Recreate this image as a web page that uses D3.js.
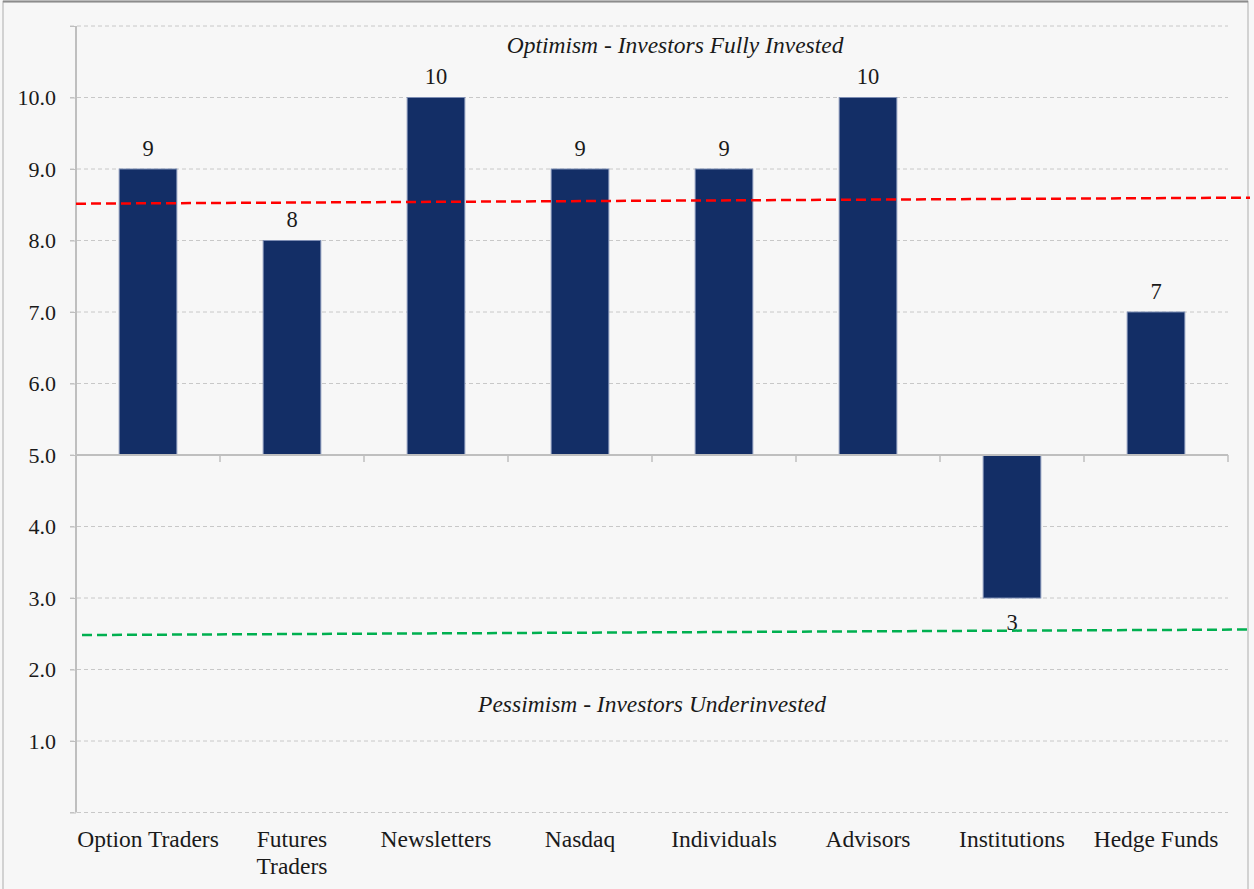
<!DOCTYPE html>
<html><head><meta charset="utf-8">
<script src="https://cdn.jsdelivr.net/npm/d3@7"></script>
<style>
html,body{margin:0;padding:0;background:#f7f7f7;}
svg{display:block;}
text{font-family:"Liberation Serif","Times New Roman",serif;fill:#1a1a1a;}
</style></head><body>
<svg id="c" width="1254" height="889"></svg>
<script>
const categories = [["Option Traders"],["Futures","Traders"],["Newsletters"],["Nasdaq"],["Individuals"],["Advisors"],["Institutions"],["Hedge Funds"]];
const values = [9, 8, 10, 9, 9, 10, 3, 7];
const baseline = 5;
const yTicks = [0,1,2,3,4,5,6,7,8,9,10,11];
const yTickLabels = ["","1.0","2.0","3.0","4.0","5.0","6.0","7.0","8.0","9.0","10.0",""];
const optimismLine = [8.515, 8.599];   // start, end values
const pessimismLine = [2.482, 2.559];
const annotations = [
  {text:"Optimism - Investors Fully Invested", value:10.62, at:0.52},
  {text:"Pessimism - Investors Underinvested", value:1.41, at:0.5}
];

const svg = d3.select("#c");
const W = 1254, H = 889;
const m = {left:76, right:26, top:26, bottom:76.5};
const plotR = W - m.right;

svg.append("rect").attr("x",3).attr("y",1.5).attr("width",1245).attr("height",H+5)
  .attr("fill","#f7f7f7").attr("stroke","#c6c6c6").attr("stroke-width",1.5);
svg.append("line").attr("x1",3).attr("x2",1248).attr("y1",1.5).attr("y2",1.5)
  .attr("stroke","#8c8c8c").attr("stroke-width",2);

const x = d3.scaleBand().domain(d3.range(categories.length)).range([m.left, plotR]).padding(0);
const y = d3.scaleLinear().domain([0, 11]).range([H - m.bottom, m.top]);
const barW = x.bandwidth() * 0.4;

// gridlines
svg.append("g").selectAll("line").data(yTicks).join("line")
  .attr("x1", m.left - 6).attr("x2", plotR)
  .attr("y1", d => y(d)).attr("y2", d => y(d))
  .attr("stroke", "#c8c8c8").attr("stroke-width", 1).attr("stroke-dasharray", "4,3");

// y axis
const yAxis = svg.append("g").attr("transform", `translate(${m.left},0)`)
  .call(d3.axisLeft(y).tickValues(yTicks).tickFormat((d,i)=>yTickLabels[i]).tickSize(6).tickPadding(14));
yAxis.select(".domain").attr("stroke","#bfbfbf").attr("stroke-width",2).attr("d",`M0,${y(11)}V${y(0)}`);
yAxis.selectAll(".tick line").attr("stroke","#bfbfbf").attr("stroke-width",1);
yAxis.selectAll(".tick text").attr("font-size",22).attr("fill","#1a1a1a")
  .attr("font-family",'"Liberation Serif","Times New Roman",serif');

// bars
svg.append("g").selectAll("rect").data(values).join("rect")
  .attr("x", (d,i) => x(i) + (x.bandwidth()-barW)/2)
  .attr("width", barW)
  .attr("y", d => y(Math.max(d, baseline)))
  .attr("height", d => Math.abs(y(d) - y(baseline)))
  .attr("fill", "#132e66").attr("stroke", "#7d8db3").attr("stroke-width", 1);

// x axis at baseline
const xb = svg.append("g");
xb.append("line").attr("x1", m.left).attr("x2", plotR).attr("y1", y(baseline)).attr("y2", y(baseline))
  .attr("stroke","#bfbfbf").attr("stroke-width",2);
xb.selectAll("line.t").data(d3.range(1, categories.length+1)).join("line").attr("class","t")
  .attr("x1", i => x.range()[0] + i*x.step()).attr("x2", i => x.range()[0] + i*x.step())
  .attr("y1", y(baseline)).attr("y2", y(baseline)+7)
  .attr("stroke","#bfbfbf").attr("stroke-width",1.5);

// value labels
svg.append("g").selectAll("text").data(values).join("text")
  .attr("x", (d,i) => x(i) + x.bandwidth()/2)
  .attr("y", d => d >= baseline ? y(d) - 13.5 : y(d) + 31.5)
  .attr("text-anchor","middle").attr("font-size",22.5).text(d => d);

// reference lines
const lx = d3.scaleLinear().domain([0,1]).range([m.left, 1250]);
const line = d3.line().x((d,i)=>lx(i)).y(d=>y(d));
svg.append("path").datum(optimismLine).attr("d", line).attr("fill","none")
  .attr("stroke","#ff0000").attr("stroke-width",2.5).attr("stroke-dasharray","10,5");
svg.append("path").datum(pessimismLine).attr("d", d3.line().x((d,i)=>i===0?m.left+6:lx(i)).y(d=>y(d))).attr("fill","none")
  .attr("stroke","#00b050").attr("stroke-width",2.5).attr("stroke-dasharray","10,5");

// annotations
svg.append("g").selectAll("text").data(annotations).join("text")
  .attr("x", d => m.left + (plotR - m.left) * d.at)
  .attr("y", d => y(d.value))
  .attr("text-anchor","middle").attr("font-size",23.5).attr("font-style","italic")
  .text(d => d.text);

// category labels
const cl = svg.append("g").selectAll("text").data(categories).join("text")
  .attr("x", (d,i) => x(i) + x.bandwidth()/2)
  .attr("y", 847).attr("text-anchor","middle").attr("font-size",23.5);
cl.selectAll("tspan").data(d => d).join("tspan")
  .attr("x", function(){ return this.parentNode.getAttribute("x"); })
  .attr("dy", (d,i) => i===0 ? 0 : 27).text(d => d);
</script>
</body></html>
